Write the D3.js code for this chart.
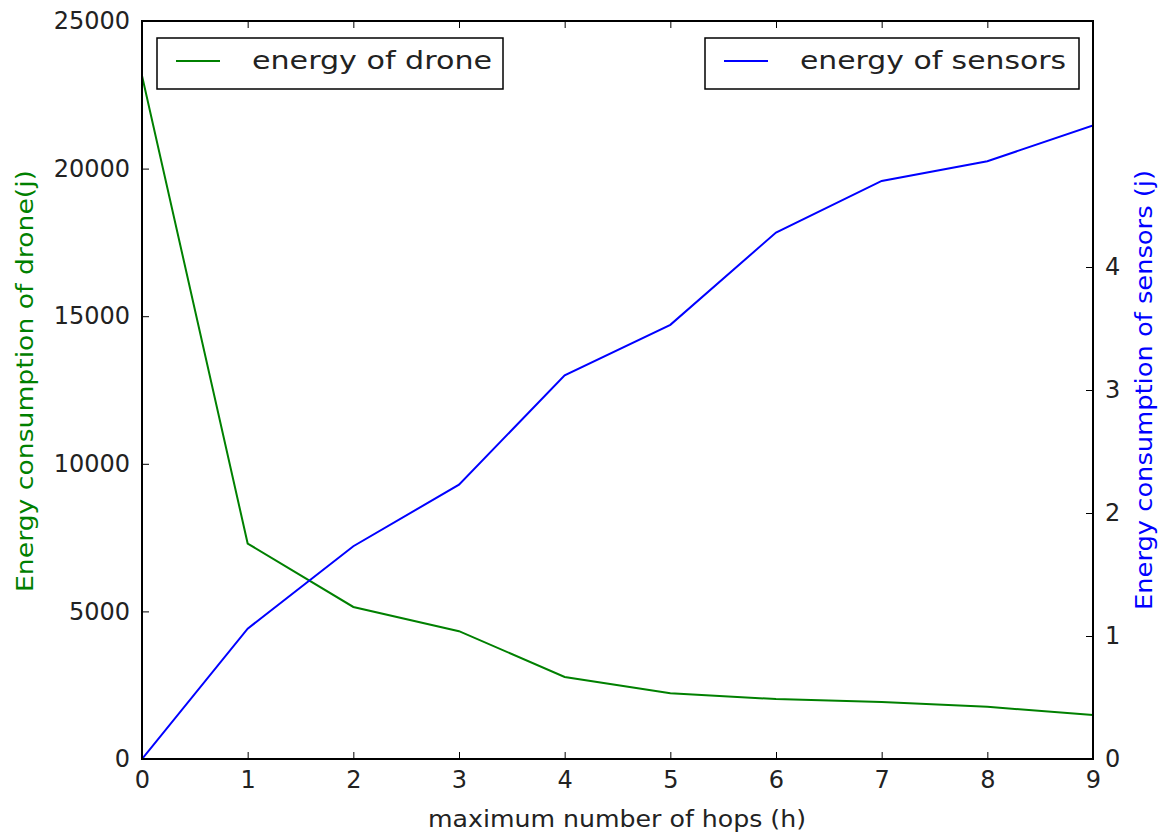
<!DOCTYPE html>
<html><head><meta charset="utf-8">
<script src="https://cdn.jsdelivr.net/npm/d3@7"></script>
<style>body{margin:0;background:#fff}text{font-family:"DejaVu Sans",sans-serif}</style>
</head><body><svg id="c" width="1163" height="837"></svg>
<script>
const hops = [0,1,2,3,4,5,6,7,8,9];
const droneEnergy = [23150,7300,5150,4330,2780,2230,2030,1930,1770,1490];
const sensorEnergy = [0,1.06,1.73,2.23,3.12,3.53,4.28,4.70,4.86,5.15];
const xTicks = [0,1,2,3,4,5,6,7,8,9];
const leftTicks = [0,5000,10000,15000,20000,25000];
const rightTicks = [0,1,2,3,4];

const svg = d3.select("#c");
const L=142, R=1093, T=21, B=759;
const x = d3.scaleLinear().domain([0,9]).range([L,R]);
const yL = d3.scaleLinear().domain([0,25000]).range([B,T]);
const yR = d3.scaleLinear().domain([0,6]).range([B,T]);
const fs = 24;

function styleAxis(g){ g.select(".domain").remove(); g.selectAll("text").attr("font-size",fs).attr("fill","#222"); g.selectAll("line").attr("stroke","#000"); }

svg.append("g").attr("transform",`translate(0,${B})`)
  .call(d3.axisBottom(x).tickValues(xTicks).tickFormat(d3.format("d")).tickSizeInner(-7).tickPadding(12))
  .call(styleAxis);
svg.append("g").attr("transform",`translate(0,${T})`)
  .call(d3.axisTop(x).tickValues(xTicks).tickFormat("").tickSizeInner(-7))
  .call(styleAxis);
svg.append("g").attr("transform",`translate(${L},0)`)
  .call(d3.axisLeft(yL).tickValues(leftTicks).tickFormat(d3.format("d")).tickSizeInner(-7).tickPadding(12))
  .call(styleAxis);
svg.append("g").attr("transform",`translate(${R},0)`)
  .call(d3.axisRight(yR).tickValues(rightTicks).tickFormat(d3.format("d")).tickSizeInner(-7).tickPadding(12))
  .call(styleAxis);

svg.append("clipPath").attr("id","cp").append("rect").attr("x",L).attr("y",T).attr("width",R-L).attr("height",B-T);
const gLines = svg.append("g").attr("clip-path","url(#cp)");
gLines.append("path").datum(hops.map((h,i)=>[h,droneEnergy[i]]))
  .attr("d",d3.line().x(d=>x(d[0])).y(d=>yL(d[1])))
  .attr("fill","none").attr("stroke","#008000").attr("stroke-width",2);
gLines.append("path").datum(hops.map((h,i)=>[h,sensorEnergy[i]]))
  .attr("d",d3.line().x(d=>x(d[0])).y(d=>yR(d[1])))
  .attr("fill","none").attr("stroke","#0000ff").attr("stroke-width",2);

svg.append("rect").attr("x",L).attr("y",T).attr("width",R-L).attr("height",B-T)
  .attr("fill","none").attr("stroke","#000").attr("stroke-width",2);

svg.append("text").attr("x",617).attr("y",827).attr("text-anchor","middle").attr("font-size",23).attr("fill","#222")
  .attr("textLength",378).attr("lengthAdjust","spacingAndGlyphs")
  .text("maximum number of hops (h)");
svg.append("text").attr("transform",`translate(33,381) rotate(-90)`).attr("text-anchor","middle").attr("font-size",23).attr("fill","#008000")
  .attr("textLength",422).attr("lengthAdjust","spacingAndGlyphs")
  .text("Energy consumption of drone(j)");
svg.append("text").attr("transform",`translate(1152,390) rotate(-90)`).attr("text-anchor","middle").attr("font-size",23).attr("fill","#0000ff")
  .attr("textLength",440).attr("lengthAdjust","spacingAndGlyphs")
  .text("Energy consumption of sensors (j)");

function legend(x0,y0,w,h,color,label,tw){
  const g = svg.append("g");
  g.append("rect").attr("x",x0).attr("y",y0).attr("width",w).attr("height",h).attr("fill","#fff").attr("stroke","#000").attr("stroke-width",1.5);
  g.append("line").attr("x1",x0+19).attr("x2",x0+63).attr("y1",y0+23).attr("y2",y0+23).attr("stroke",color).attr("stroke-width",2);
  g.append("text").attr("x",x0+95).attr("y",y0+31).attr("font-size",24).attr("fill","#222")
    .attr("textLength",tw).attr("lengthAdjust","spacingAndGlyphs").text(label);
}
legend(157,38,346,51,"#008000","energy of drone",240);
legend(705,38,374,51,"#0000ff","energy of sensors",266);
</script></body></html>
